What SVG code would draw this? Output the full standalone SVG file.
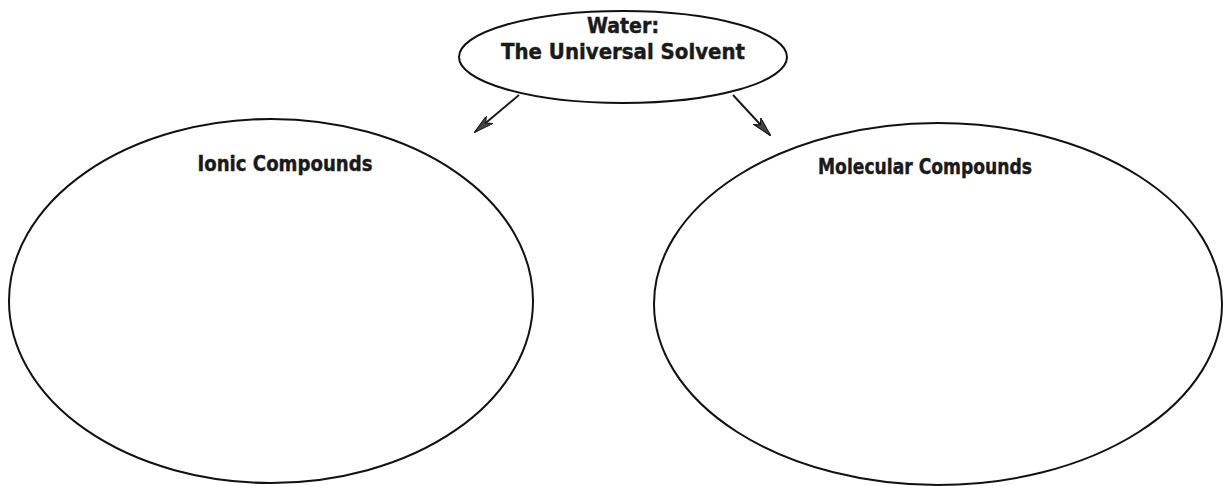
<svg xmlns="http://www.w3.org/2000/svg" width="1223" height="486" viewBox="0 0 1223 486">
<style>
.shape{fill:none;stroke:#111;stroke-width:2}
.lbl{font-family:"DejaVu Sans Condensed","Liberation Sans",sans-serif;font-weight:bold;font-size:21px;fill:#1a1a1a;text-anchor:middle;stroke:#1a1a1a;stroke-width:0.4}
.conn{stroke:#1a1a1a;stroke-width:2;fill:none}
</style>
<defs>
<marker id="arr" viewBox="0 0 20 10" refX="19" refY="5" markerWidth="20" markerHeight="10" markerUnits="userSpaceOnUse" orient="auto">
<path d="M0,0 L20,5 L0,10 L5,5 Z" fill="#444" stroke="#111" stroke-width="1"/>
</marker>
</defs>
<rect width="1223" height="486" fill="#fff"/>
<g id="connectors">
<line class="conn" x1="519" y1="95" x2="475" y2="132" marker-end="url(#arr)"/>
<line class="conn" x1="733" y1="95" x2="770" y2="135" marker-end="url(#arr)"/>
</g>
<g id="water">
<ellipse class="shape" cx="623" cy="57" rx="164" ry="46"/>
<text class="lbl" x="623" y="33" textLength="72" lengthAdjust="spacingAndGlyphs">Water:</text>
<text class="lbl" x="623" y="59" textLength="244" lengthAdjust="spacingAndGlyphs">The Universal Solvent</text>
</g>
<g id="ionic">
<ellipse class="shape" cx="271" cy="301" rx="262" ry="182"/>
<text class="lbl" x="285" y="171" textLength="175" lengthAdjust="spacingAndGlyphs">Ionic Compounds</text>
</g>
<g id="molecular">
<ellipse class="shape" cx="938" cy="304" rx="284" ry="181"/>
<text class="lbl" x="925" y="174" textLength="214" lengthAdjust="spacingAndGlyphs">Molecular Compounds</text>
</g>
</svg>
